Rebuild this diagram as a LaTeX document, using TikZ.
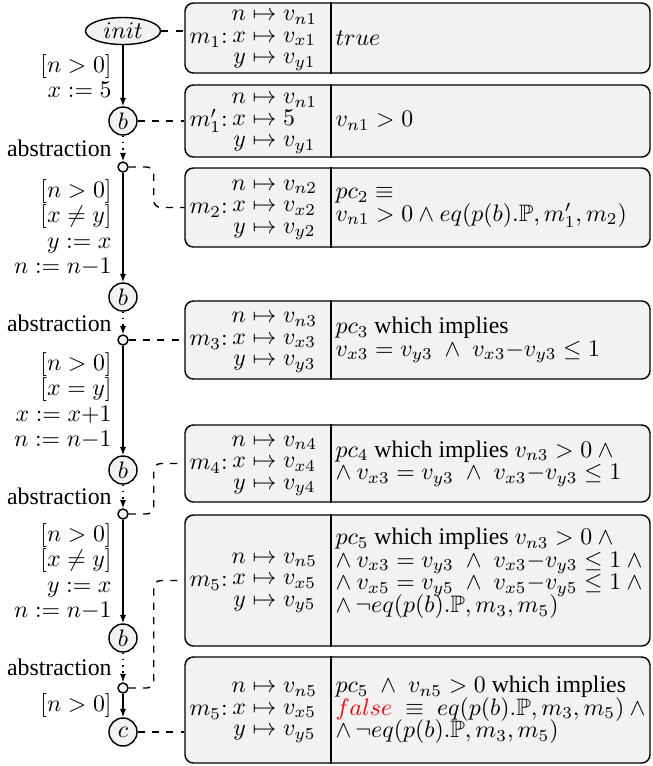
\documentclass[tikz,border=0pt]{standalone}
\usepackage{amsmath,amssymb}
\usepackage[no-math]{fontspec}
\setmainfont{Liberation Serif}
\usepackage{tikz}
\usetikzlibrary{arrows.meta, shapes.geometric, positioning}

% one pixel of the sketch
\newcommand{\px}{0.42pt}

% memory map of one box: name, values of n, x and y
\newcommand{\memmap}[4]{$\def\arraystretch{0.75}#1{:}\,\begin{array}{@{}r@{}l@{}}
    n & {}\mapsto #2\\ x & {}\mapsto #3\\ y & {}\mapsto #4\end{array}$}

\begin{document}
\begin{tikzpicture}[
    % coordinates are pixels of the sketch, y grows downwards
    x=\px, y=-\px,
    >={Latex[length=3.5pt,width=2.6pt]},
    state/.style={circle, draw, semithick, fill=gray!10, minimum size=28*\px, inner sep=0pt},
    hub/.style={circle, draw, semithick, fill=gray!10, minimum size=10*\px, inner sep=0pt},
    flow/.style={->, semithick},
    link/.style={semithick, dashed, rounded corners=3pt},
    lbl/.style={left=3.5pt, inner sep=1pt, align=right,
        font={\fontsize{10}{10.6}\selectfont\lineskiplimit=-5pt}},
    membox/.style={draw, semithick, fill=gray!10, rounded corners=3.5pt,
        minimum width=465*\px, inner sep=0pt},
    mapnode/.style={inner sep=0pt, anchor=west},
    fmla/.style={inner sep=0pt, anchor=west, xshift=1.7pt, align=left,
        font={\fontsize{10}{9.5}\selectfont\lineskiplimit=-5pt}}
]
    \useasboundingbox (0,0) rectangle (652,766);

    % --- Boxes with memory and path condition ---
    \node[membox, minimum height=70*\px]  (bx1) at (417.5,38) {};
    \node[membox, minimum height=72*\px]  (bx2) at (417.5,121) {};
    \node[membox, minimum height=79*\px]  (bx3) at (417.5,207.5) {};
    \node[membox, minimum height=78*\px]  (bx4) at (417.5,340) {};
    \node[membox, minimum height=77*\px]  (bx5) at (417.5,463.5) {};
    \node[membox, minimum height=131*\px] (bx6) at (417.5,580.5) {};
    \node[membox, minimum height=106*\px] (bx7) at (417.5,710) {};

    \coordinate (div) at (331,0);
    \foreach \i in {1,...,7} {
        \draw[semithick] (bx\i.north -| div) -- (bx\i.south -| div);
    }

    \node[mapnode, right=2pt of bx1.west] (mp1) {\memmap{m_1}{v_{n1}}{v_{x1}}{v_{y1}}};
    \node[mapnode, right=2pt of bx2.west] (mp2) {\memmap{m_1'}{v_{n1}}{5}{v_{y1}}};
    \node[mapnode, right=2pt of bx3.west] (mp3) {\memmap{m_2}{v_{n2}}{v_{x2}}{v_{y2}}};
    \node[mapnode, right=2pt of bx4.west] (mp4) {\memmap{m_3}{v_{n3}}{v_{x3}}{v_{y3}}};
    \node[mapnode, right=2pt of bx5.west] (mp5) {\memmap{m_4}{v_{n4}}{v_{x4}}{v_{y4}}};
    \node[mapnode, right=2pt of bx6.west] (mp6) {\memmap{m_5}{v_{n5}}{v_{x5}}{v_{y5}}};
    \node[mapnode, right=2pt of bx7.west] (mp7) {\memmap{m_5}{v_{n5}}{v_{x5}}{v_{y5}}};

    \node[fmla] (pc1) at (bx1.west -| div) {$true$};
    \node[fmla] (pc2) at (bx2.west -| div) {$v_{n1} > 0$};
    \node[fmla] (pc3) at (bx3.west -| div) {$pc_2 \equiv$\\
        $v_{n1} > 0 \wedge eq(p(b).\mathbb{P}, m_1', m_2)$};
    \node[fmla] (pc4) at (bx4.west -| div) {$pc_3$ which implies\\
        $v_{x3} = v_{y3} \;\wedge\; v_{x3}{-}v_{y3} \leq 1$};
    \node[fmla] (pc5) at (bx5.west -| div) {$pc_4$ which implies $v_{n3} > 0 \wedge{}$\\
        $\wedge\: v_{x3} = v_{y3} \;\wedge\; v_{x3}{-}v_{y3} \leq 1$};
    \node[fmla, yshift=3pt] (pc6) at (bx6.west -| div) {$pc_5$ which implies $v_{n3} > 0 \wedge{}$\\
        $\wedge\: v_{x3} = v_{y3} \;\wedge\; v_{x3}{-}v_{y3} \leq 1 \wedge{}$\\
        $\wedge\: v_{x5} = v_{y5} \;\wedge\; v_{x5}{-}v_{y5} \leq 1 \wedge{}$\\
        $\wedge\, \neg eq(p(b).\mathbb{P}, m_3, m_5)$};
    \node[fmla] (pc7) at (bx7.west -| div) {$pc_5 \;\wedge\; v_{n5} > 0$ which implies\\
        $\textcolor{red}{false} \;\equiv\; eq(p(b).\mathbb{P}, m_3, m_5) \wedge{}$\\
        $\wedge\, \neg eq(p(b).\mathbb{P}, m_3, m_5)$};

    % --- Program locations ---
    \node[ellipse, draw, semithick, fill=gray!10, minimum width=75*\px, minimum height=27*\px,
        inner sep=0pt] (init) at (123,31) {$init$};
    \node[state] (b1) at (123,121) {$b$};
    \node[hub]   (a1) at (123,167) {};
    \node[state] (b2) at (123,297) {$b$};
    \node[hub]   (a2) at (123,340) {};
    \node[state] (b3) at (123,470) {$b$};
    \node[hub]   (a3) at (123,514) {};
    \node[state] (b4) at (123,638) {$b$};
    \node[hub]   (a4) at (123,688) {};
    \node[state] (c)  at (123,732) {$c$};

    % --- Transitions ---
    \draw[flow] (init) -- node[lbl] {$[n > 0]$\\ $x := 5$} (b1);
    \draw[flow, dotted] (b1) -- node[lbl] {abstraction} (a1);
    \draw[flow] (a1) -- node[lbl] {$[n > 0]$\\ $[x \neq y]$\\ $y := x$\\ $n := n{-}1$} (b2);
    \draw[flow, dotted] (b2) -- node[lbl] {abstraction} (a2);
    \draw[flow] (a2) -- node[lbl] {$[n > 0]$\\ $[x = y]$\\ $x := x{+}1$\\ $n := n{-}1$} (b3);
    \draw[flow, dotted] (b3) -- node[lbl] {abstraction} (a3);
    \draw[flow] (a3) -- node[lbl] {$[n > 0]$\\ $[x \neq y]$\\ $y := x$\\ $n := n{-}1$} (b4);
    \draw[flow, dotted] (b4) -- node[lbl] {abstraction} (a4);
    \draw[flow] (a4) -- node[lbl] {$[n > 0]$} (c);

    % --- Links from locations to boxes ---
    \draw[link] (init) -- (init -| bx1.west);
    \draw[link] (b1) -- (b1 -| bx2.west);
    \draw[link] (a1.east) -- ++(25,0) |- (bx3.west);
    \draw[link] (a2) -- (a2 -| bx4.west);
    \draw[link] (a3.east) -- ++(25,0) |- (bx5.west);
    \draw[link] (a4.east) -- ++(25,0) |- (bx6.west);
    \draw[link] (c) -- (c -| bx7.west);
\end{tikzpicture}
\end{document}
